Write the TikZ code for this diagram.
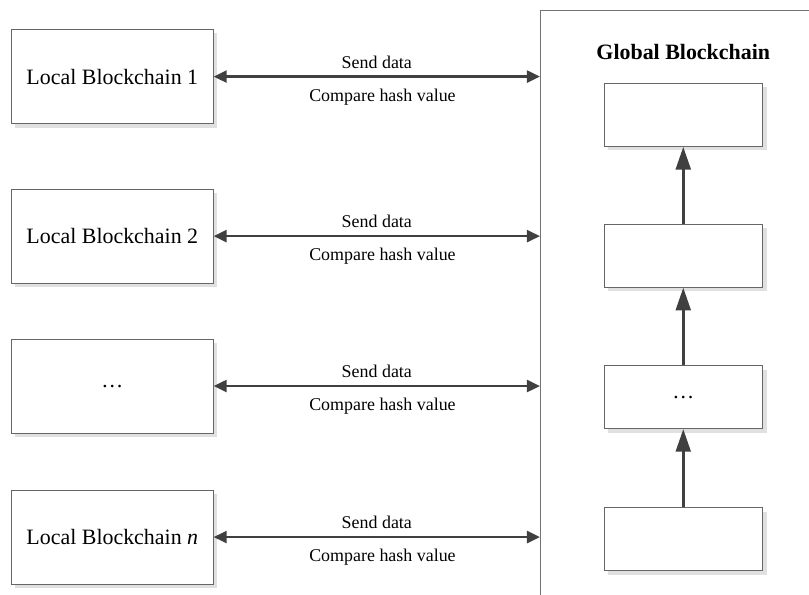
\documentclass[tikz,border=0pt]{standalone}
\usepackage{fontspec}
\setmainfont{Liberation Serif}
\usetikzlibrary{arrows.meta, positioning, shadows}

\begin{document}
\begin{tikzpicture}[
  blk/.style={draw=black!60, fill=white, font=\fontsize{11}{13}\selectfont,
              drop shadow={shadow xshift=0.7mm, shadow yshift=-0.7mm,
                           fill=black!12, opacity=1}},
  local/.style={blk, minimum width=35.6mm, minimum height=16.6mm},
  gblk/.style={blk, minimum width=28mm, minimum height=11.1mm},
  lab/.style={font=\fontsize{9}{11}\selectfont, inner sep=0pt},
  link/.style={{Triangle[length=2.3mm,width=2.1mm]}-{Triangle[length=2.3mm,width=2.1mm]},
               line width=1.3pt, draw=black!75},
  up/.style={-{Triangle[length=4mm,width=2.6mm]}, line width=1.5pt, draw=black!75}
]
  \useasboundingbox (0,0) rectangle (142.7mm,104.8mm);
  \clip (0,0) rectangle (142.7mm,104.8mm);

  % global chain (runs past the page edge)
  \node[draw=black!55, minimum width=50.4mm, minimum height=110mm,
        anchor=north west] (glob) at (95.25mm,103.04mm) {};
  \node[font=\bfseries\fontsize{11}{13}\selectfont] (gtitle)
        at ([yshift=-7.4mm]glob.north) {Global Blockchain};
  \node[gblk, below=12.9mm of glob.north] (gb1) {};
  \node[gblk, below=13.6mm of gb1] (gb2) {};
  \node[gblk, below=13.7mm of gb2] (gb3) {\dots};
  \node[gblk, below=13.8mm of gb3] (gb4) {};

  \draw[up] (gb4) -- (gb3);
  \draw[up] (gb3) -- (gb2);
  \draw[up] (gb2) -- (gb1);

  % local chains
  \node[local, anchor=north west] (lb1) at (1.94mm,99.66mm) {Local Blockchain 1};
  \node[local, below=11.4mm of lb1] (lb2) {Local Blockchain 2};
  \node[local, below=9.7mm of lb2]  (lb3) {\dots};
  \node[local, below=9.9mm of lb3]  (lbn) {Local Blockchain \textit{n}};

  \draw[link] (lb1.east) -- (lb1.east -| glob.west)
    node[lab, midway, above=1.2mm] (s1) {Send data}
    node[lab, midway, below=1.9mm, xshift=1mm] (c1) {Compare hash value};
  \draw[link] (lb2.east) -- (lb2.east -| glob.west)
    node[lab, midway, above=1.2mm] (s2) {Send data}
    node[lab, midway, below=1.9mm, xshift=1mm] (c2) {Compare hash value};
  \draw[link] (lb3.east) -- (lb3.east -| glob.west)
    node[lab, midway, above=1.2mm] (s3) {Send data}
    node[lab, midway, below=1.9mm, xshift=1mm] (c3) {Compare hash value};
  \draw[link] (lbn.east) -- (lbn.east -| glob.west)
    node[lab, midway, above=1.2mm] (sn) {Send data}
    node[lab, midway, below=1.9mm, xshift=1mm] (cn) {Compare hash value};
\end{tikzpicture}
\end{document}
